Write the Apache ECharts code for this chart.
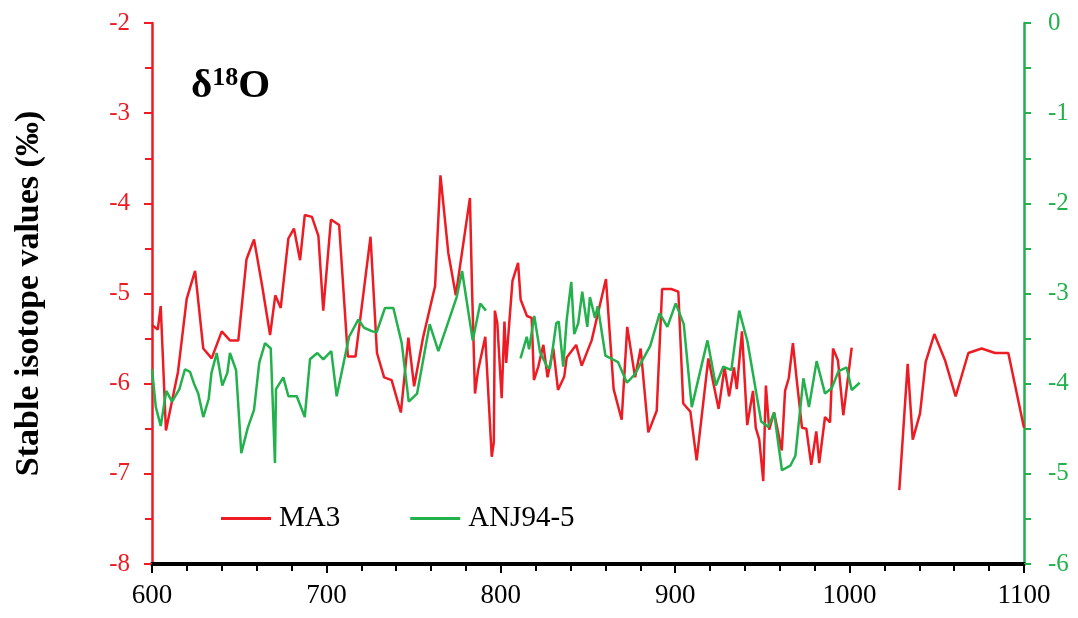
<!DOCTYPE html>
<html>
<head>
<meta charset="utf-8">
<script src="https://cdn.jsdelivr.net/npm/echarts@6/dist/echarts.min.js"></script>
<style>
  html, body { margin: 0; padding: 0; background: #fff; }
  #chart { width: 1078px; height: 618px; }
</style>
</head>
<body>
<div id="chart"></div>
<script>
'use strict';

// MA3 record (left axis), null = gap in the record
const ma3Years = [600, 603.3, 605, 608, 614.9, 619.9, 624.7, 629.4, 634.2, 640, 644.7, 649.5,
    654.2, 658.5, 663.2, 667.7, 670.7, 673.8, 678.2, 681.4, 684.9, 687.6, 691.7, 695.4, 698.2,
    702.6, 707.3, 712.3, 716.7, 725.3, 729, 733.1, 737.4, 742.7, 747, 750.3, 755.4, 762.3, 765.4,
    769.9, 774.2, 782.3, 783.5, 785.2, 786.9, 791.1, 794.8, 796, 796.6, 798, 800.5, 802.1, 803.1,
    806.7, 809.9, 811.4, 815, 817.7, 819, 821.5, 824.4, 826.8, 830.1, 832.8, 836.4, 837.8, 843.2,
    846.4, 852.1, 860.3, 864.7, 869.3, 872.5, 877, 880.2, 884.6, 889.4, 892.5, 897.7, 901.8, 904.6,
    908.7, 912.3, 919, 924.9, 928.3, 930.9, 933.7, 935.3, 938.3, 941.3, 944.6, 946.2, 948.2, 950.5,
    952, 953.9, 956.7, 961.1, 963, 965.1, 967.5, 969.7, 972.7, 975.2, 978, 980.9, 982.6, 985.9,
    988.8, 990.5, 993.3, 996.4, 1001.2, 1015, 1028.5, 1033.3, 1036.2, 1040.4, 1043.6, 1048.6,
    1054.7, 1060.8, 1068.1, 1075.7, 1083.4, 1091, 1100];
const ma3Values = [-5.35, -5.40, -5.14, -6.52, -5.87, -5.06, -4.75, -5.61, -5.72, -5.42, -5.52, -5.52,
    -4.62, -4.40, -4.92, -5.46, -5.02, -5.16, -4.39, -4.28, -4.63, -4.13, -4.15, -4.36, -5.19,
    -4.18, -4.24, -5.70, -5.70, -4.37, -5.66, -5.93, -5.96, -6.32, -5.49, -6.03, -5.49, -4.92, -3.69,
    -4.55, -5.02, -3.94, -4.94, -6.11, -5.86, -5.48, -6.81, -6.65, -5.19, -5.33, -6.16, -5.31, -5.77,
    -4.86, -4.66, -5.07, -5.25, -5.27, -5.96, -5.81, -5.57, -5.93, -5.61, -6.07, -5.92, -5.71, -5.57,
    -5.80, -5.52, -4.84, -6.06, -6.40, -5.37, -5.93, -5.61, -6.54, -6.30, -4.95, -4.95, -4.98, -6.22,
    -6.31, -6.85, -5.72, -6.28, -5.82, -6.14, -5.82, -6.06, -5.42, -6.46, -6.08, -6.49, -6.62, -7.08,
    -6.02, -6.51, -6.32, -6.74, -6.08, -5.94, -5.55, -5.96, -6.49, -6.50, -6.90, -6.53, -6.88, -6.37,
    -6.43, -5.61, -5.74, -6.35, -5.60, null, -7.18, -5.78, -6.62, -6.33, -5.76, -5.45,
    -5.74, -6.14, -5.66, -5.61, -5.66, -5.66, -6.49];

// ANJ94-5 record (right axis)
const anjYears = [600, 602.2, 605, 608.2, 611.5, 615.7, 618.9, 621.8, 624.1, 626.5, 629.4, 632.5,
    634.1, 637.1, 640.3, 643.2, 644.7, 648.2, 651.2, 654.9, 658.5, 661.5, 664.8, 668.1, 670.5,
    671.1, 675.3, 678.2, 683, 687.6, 690.6, 694.8, 698.2, 702.8, 705.9, 713, 718.3, 721.6, 726.4,
    728.8, 733.6, 738.4, 743.2, 747.2, 752, 759.2, 764.2, 774.7, 777.8, 783.9, 788.2, 791.5, 800,
    811.3, 814.9, 816.2, 819.2, 822.5, 826.5, 828.2, 831.8, 833.2, 835.8, 837.8, 840.4, 842.1,
    844.4, 846.7, 849.6, 851.1, 854, 855.6, 860, 867.2, 872.3, 876.7, 885.7, 891.1, 895.5, 900.3,
    904.9, 909.5, 918.5, 923.3, 927.6, 932.2, 936.7, 941.4, 949.3, 953.4, 956.7, 961.2, 966,
    968.9, 973.5, 976.7, 981.1, 985.9, 989.7, 993.7, 998.3, 1001.2, 1005.8];
const anjValues = [-3.84, -4.26, -4.47, -4.08, -4.20, -4.06, -3.84, -3.87, -4.00, -4.11, -4.37, -4.17,
    -3.88, -3.66, -4.02, -3.88, -3.66, -3.85, -4.77, -4.49, -4.29, -3.77, -3.55, -3.61, -4.88,
    -4.06, -3.93, -4.14, -4.14, -4.37, -3.73, -3.66, -3.73, -3.64, -4.14, -3.48, -3.29, -3.38, -3.42,
    -3.43, -3.16, -3.16, -3.55, -4.20, -4.11, -3.34, -3.64, -3.04, -2.75, -3.52, -3.11, -3.19, null,
    -3.72, -3.48, -3.62, -3.25, -3.65, -3.81, -3.83, -3.33, -3.31, -3.81, -3.29, -2.87, -3.45,
    -3.33, -2.98, -3.37, -3.04, -3.27, -3.14, -3.69, -3.76, -3.99, -3.90, -3.58, -3.22, -3.37, -3.11,
    -3.34, -4.26, -3.52, -4.02, -3.81, -3.85, -3.19, -3.53, -4.42, -4.48, -4.32, -4.96, -4.91,
    -4.80, -3.94, -4.26, -3.75, -4.11, -4.05, -3.86, -3.82, -4.07, -3.99];

const seriesNames = ['MA3', 'ANJ94-5'];

const RED = '#ed1c24';
const GREEN = '#22b14c';
const FONT = '"Liberation Serif", "Times New Roman", serif';

let toPairs = function (xs, ys) {
    return xs.map(function (x, i) {
        return [x, ys[i] === null ? '-' : ys[i]];
    });
};

let chart = echarts.init(document.getElementById('chart'));

let option = {
    backgroundColor: '#fff',
    animation: false,
    textStyle: { fontFamily: FONT },
    title: {
        text: '{a|δ}{b|18}{a|O}',
        left: 186,
        top: 60,
        textStyle: {
            rich: {
                a: { fontFamily: FONT, fontSize: 41, fontWeight: 'bold', color: '#000' },
                b: { fontFamily: FONT, fontSize: 26, fontWeight: 'bold', color: '#000', padding: [0, 0, 17, 0] }
            }
        }
    },
    legend: {
        data: seriesNames,
        left: 216,
        top: 499,
        icon: 'rect',
        itemWidth: 50,
        itemHeight: 3,
        itemGap: 70,
        textStyle: { fontFamily: FONT, fontSize: 29, color: '#000', padding: [0, 0, 0, 3] }
    },
    grid: {
        left: 152,
        right: 54,
        top: 23,
        bottom: 54
    },
    xAxis: {
        type: 'value',
        position: 'bottom',
        min: 600,
        max: 1100,
        interval: 100,
        axisLine: { show: true, onZero: false, lineStyle: { color: '#000', width: 4, opacity: 1 } },
        axisTick: { show: true, length: 9, lineStyle: { color: '#000', width: 2, opacity: 1 } },
        minorTick: { show: true, splitNumber: 5, length: 7, lineStyle: { color: '#000', width: 2, opacity: 1 } },
        axisLabel: {
            fontFamily: FONT, fontSize: 27, color: '#000', margin: 18,
            formatter: function (v) { return String(v); }
        },
        splitLine: { show: false }
    },
    yAxis: [{
        type: 'value',
        position: 'left',
        min: -8,
        max: -2,
        interval: 1,
        name: 'Stable isotope values (‰)',
        nameLocation: 'middle',
        nameGap: 106,
        nameTextStyle: { fontFamily: FONT, fontSize: 34, fontWeight: 'bold', color: '#000' },
        axisLine: { show: true, onZero: false, lineStyle: { color: RED, width: 2.5 } },
        axisTick: { show: true, length: 8, lineStyle: { color: RED, width: 2 } },
        minorTick: { show: true, splitNumber: 2, length: 7, lineStyle: { color: RED, width: 2 } },
        axisLabel: { fontFamily: FONT, fontSize: 25, color: RED, margin: 22 },
        splitLine: { show: false }
    }, {
        type: 'value',
        position: 'right',
        min: -6,
        max: 0,
        interval: 1,
        axisLine: { show: true, onZero: false, lineStyle: { color: GREEN, width: 2.5 } },
        axisTick: { show: true, length: 7, lineStyle: { color: GREEN, width: 2 } },
        minorTick: { show: true, splitNumber: 2, length: 7, lineStyle: { color: GREEN, width: 2 } },
        axisLabel: { fontFamily: FONT, fontSize: 25, color: GREEN, margin: 24 },
        splitLine: { show: false }
    }],
    series: [{
        name: seriesNames[0],
        type: 'line',
        yAxisIndex: 0,
        data: toPairs(ma3Years, ma3Values),
        showSymbol: false,
        connectNulls: false,
        color: RED,
        lineStyle: { color: RED, width: 2.5 }
    }, {
        name: seriesNames[1],
        type: 'line',
        yAxisIndex: 1,
        data: toPairs(anjYears, anjValues),
        showSymbol: false,
        connectNulls: false,
        color: GREEN,
        lineStyle: { color: GREEN, width: 2.5 }
    }]
};

chart.setOption(option);
</script>
</body>
</html>
